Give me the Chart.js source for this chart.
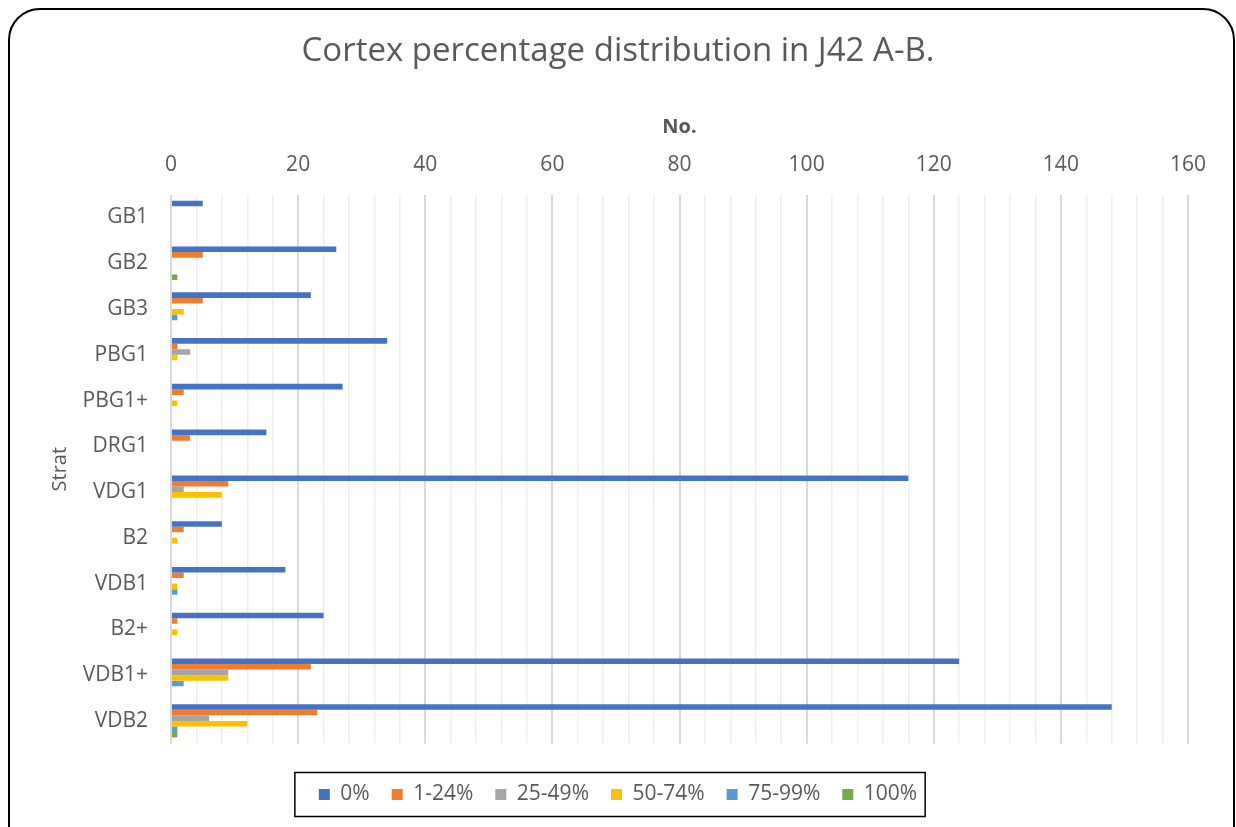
<!DOCTYPE html>
<html lang="en">
<head>
    <meta charset="UTF-8">
    <title>Cortex percentage distribution</title>
    <script src="https://cdn.jsdelivr.net/npm/chart.js"></script>
    <style>
        body {
            margin: 0;
            padding: 0;
            background: #ffffff;
            overflow: hidden;
        }

        .frame {
            position: absolute;
            left: 8px;
            top: 8px;
            width: 1223px;
            height: 860px;
            border: 2px solid #000000;
            border-radius: 32px;
        }

        .container {
            position: absolute;
            left: 0;
            top: 0;
            width: 1236px;
            height: 827px;
        }
    </style>
</head>
<body>
    <div class="frame"></div>
    <div class="container">
        <canvas id="cortexChart"></canvas>
    </div>

    <script>
        const strata = ["GB1", "GB2", "GB3", "PBG1", "PBG1+", "DRG1", "VDG1", "B2", "VDB1", "B2+", "VDB1+", "VDB2"];

        const pct0 = [5, 26, 22, 34, 27, 15, 116, 8, 18, 24, 124, 148];
        const pct1to24 = [0, 5, 5, 1, 2, 3, 9, 2, 2, 1, 22, 23];
        const pct25to49 = [0, 0, 0, 3, 0, 0, 2, 0, 0, 0, 9, 6];
        const pct50to74 = [0, 0, 2, 1, 1, 0, 8, 1, 1, 1, 9, 12];
        const pct75to99 = [0, 0, 1, 0, 0, 0, 0, 0, 1, 0, 2, 1];
        const pct100 = [0, 1, 0, 0, 0, 0, 0, 0, 0, 0, 0, 1];

        const seriesNames = ["0%", "1-24%", "25-49%", "50-74%", "75-99%", "100%"];
        const seriesColors = ["#4472C4", "#ED7D31", "#A5A5A5", "#FFC000", "#5B9BD5", "#70AD47"];
        const seriesValues = [pct0, pct1to24, pct25to49, pct50to74, pct75to99, pct100];

        const textColor = "#595959";
        const fontFamily = "'Open Sans', sans-serif";

        // draws the black box around the legend items
        const legendBox = {
            id: "legendBox",
            afterDraw(chart) {
                const boxes = chart.legend.legendHitBoxes;
                if (!boxes || !boxes.length) return;
                const left = Math.min(...boxes.map(b => b.left)) - 24;
                const right = Math.max(...boxes.map(b => b.left + b.width)) + 8;
                const midY = boxes[0].top + boxes[0].height / 2;
                const c = chart.ctx;
                c.save();
                c.strokeStyle = "#000000";
                c.lineWidth = 1.5;
                c.strokeRect(left, midY - 22, right - left, 44);
                c.restore();
            }
        };

        const ctx = document.getElementById("cortexChart").getContext("2d");
        const cortexChart = new Chart(ctx, {
            type: "bar",
            data: {
                labels: strata,
                datasets: seriesValues.map((vals, i) => ({
                    label: seriesNames[i],
                    data: vals,
                    backgroundColor: seriesColors[i],
                    borderWidth: 0,
                    barPercentage: 1.0,
                    categoryPercentage: 0.73,
                })),
            },
            options: {
                indexAxis: "y",
                responsive: true,
                maintainAspectRatio: false,
                animation: false,
                layout: {
                    padding: { left: 48, right: 48, top: 0, bottom: 12 },
                },
                plugins: {
                    title: {
                        display: true,
                        text: "Cortex percentage distribution in J42 A-B.",
                        color: textColor,
                        font: { family: fontFamily, size: 33, weight: "normal" },
                        padding: { top: 32, bottom: 39 },
                    },
                    legend: {
                        position: "bottom",
                        title: {
                            display: true,
                            text: "",
                            font: { size: 1 },
                            padding: { top: 0, bottom: 17 },
                        },
                        labels: {
                            color: textColor,
                            font: { family: fontFamily, size: 21 },
                            boxWidth: 11,
                            boxHeight: 11,
                            padding: 22,
                        },
                    },
                    tooltip: { enabled: false },
                },
                scales: {
                    x: {
                        position: "top",
                        min: 0,
                        max: 160,
                        afterFit(scale) {
                            scale.height = 84;
                        },
                        ticks: {
                            stepSize: 4,
                            autoSkip: false,
                            maxRotation: 0,
                            color: textColor,
                            font: { family: fontFamily, size: 21 },
                            padding: 17,
                            callback: v => (v % 20 === 0 ? v : ""),
                        },
                        grid: {
                            drawTicks: false,
                            color: c => (c.tick && c.tick.value % 20 === 0 ? "#d9d9d9" : "#efefef"),
                            lineWidth: c => (c.tick && c.tick.value % 20 === 0 ? 2 : 1.5),
                        },
                        border: { display: false },
                        title: {
                            display: true,
                            text: "No.",
                            color: textColor,
                            font: { family: fontFamily, size: 20, weight: "bold" },
                            padding: { top: 5, bottom: 4 },
                        },
                    },
                    y: {
                        afterFit(scale) {
                            scale.width = 123;
                        },
                        ticks: {
                            color: textColor,
                            font: { family: fontFamily, size: 21 },
                            padding: 23,
                        },
                        grid: { display: false, drawTicks: false },
                        border: { display: false },
                        title: {
                            display: true,
                            text: "Strat",
                            color: textColor,
                            font: { family: fontFamily, size: 20 },
                            padding: 0,
                        },
                    },
                },
            },
            plugins: [legendBox],
        });
    </script>
</body>
</html>
